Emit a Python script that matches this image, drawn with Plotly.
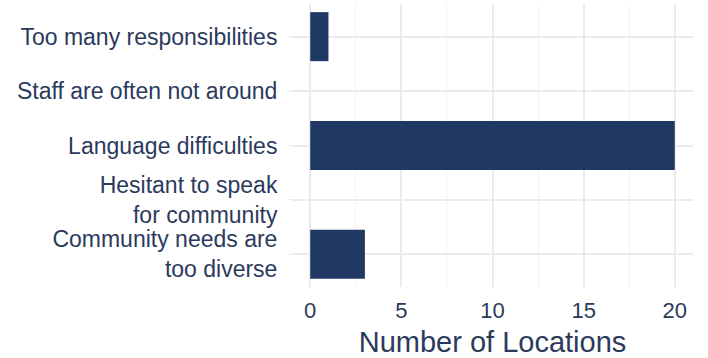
import plotly.graph_objects as go

categories = [
    "Community needs are<br>too diverse",
    "Hesitant to speak<br>for community",
    "Language difficulties",
    "Staff are often not around",
    "Too many responsibilities",
]
values = [3, 0, 20, 0, 1]
x_ticks = [0, 5, 10, 15, 20]

navy = "#1f3864"
text_col = "#2b3a5c"
font_family = "Liberation Sans, Arial, sans-serif"

fig = go.Figure(go.Bar(
    y=categories, x=values, orientation="h",
    marker=dict(color=navy, line=dict(width=0)),
    width=0.9,
))

fig.update_layout(
    width=708, height=358,
    margin=dict(l=292, r=15, t=4, b=71),
    plot_bgcolor="white", paper_bgcolor="white",
    showlegend=False,
    font=dict(family=font_family, color=text_col, size=22),
)
fig.update_xaxes(
    range=[-1, 21], tickvals=x_ticks, ticktext=[str(v) for v in x_ticks],
    showgrid=True, gridcolor="#ebebeb", gridwidth=1.5,
    minor=dict(dtick=2.5, tick0=0, showgrid=True, gridcolor="#f2f2f2", gridwidth=1),
    zeroline=False, showline=False, ticks="", automargin=False,
    ticklabelstandoff=8,
    tickfont=dict(size=22, color=text_col),
    title=dict(text="Number of Locations", font=dict(size=29, color=text_col), standoff=10),
)
fig.update_yaxes(
    categoryorder="array", categoryarray=categories,
    range=[-0.6, 4.6], automargin=False,
    showgrid=True, gridcolor="#ebebeb", gridwidth=1.5,
    zeroline=False, showline=False,
    ticks="outside", ticklen=3, tickcolor="#e6e6e6",
    ticklabelstandoff=6,
    tickfont=dict(size=23, color=text_col),
)

fig.write_html("out.html", config={"displayModeBar": False},
               post_script="document.body.style.margin='0';")
